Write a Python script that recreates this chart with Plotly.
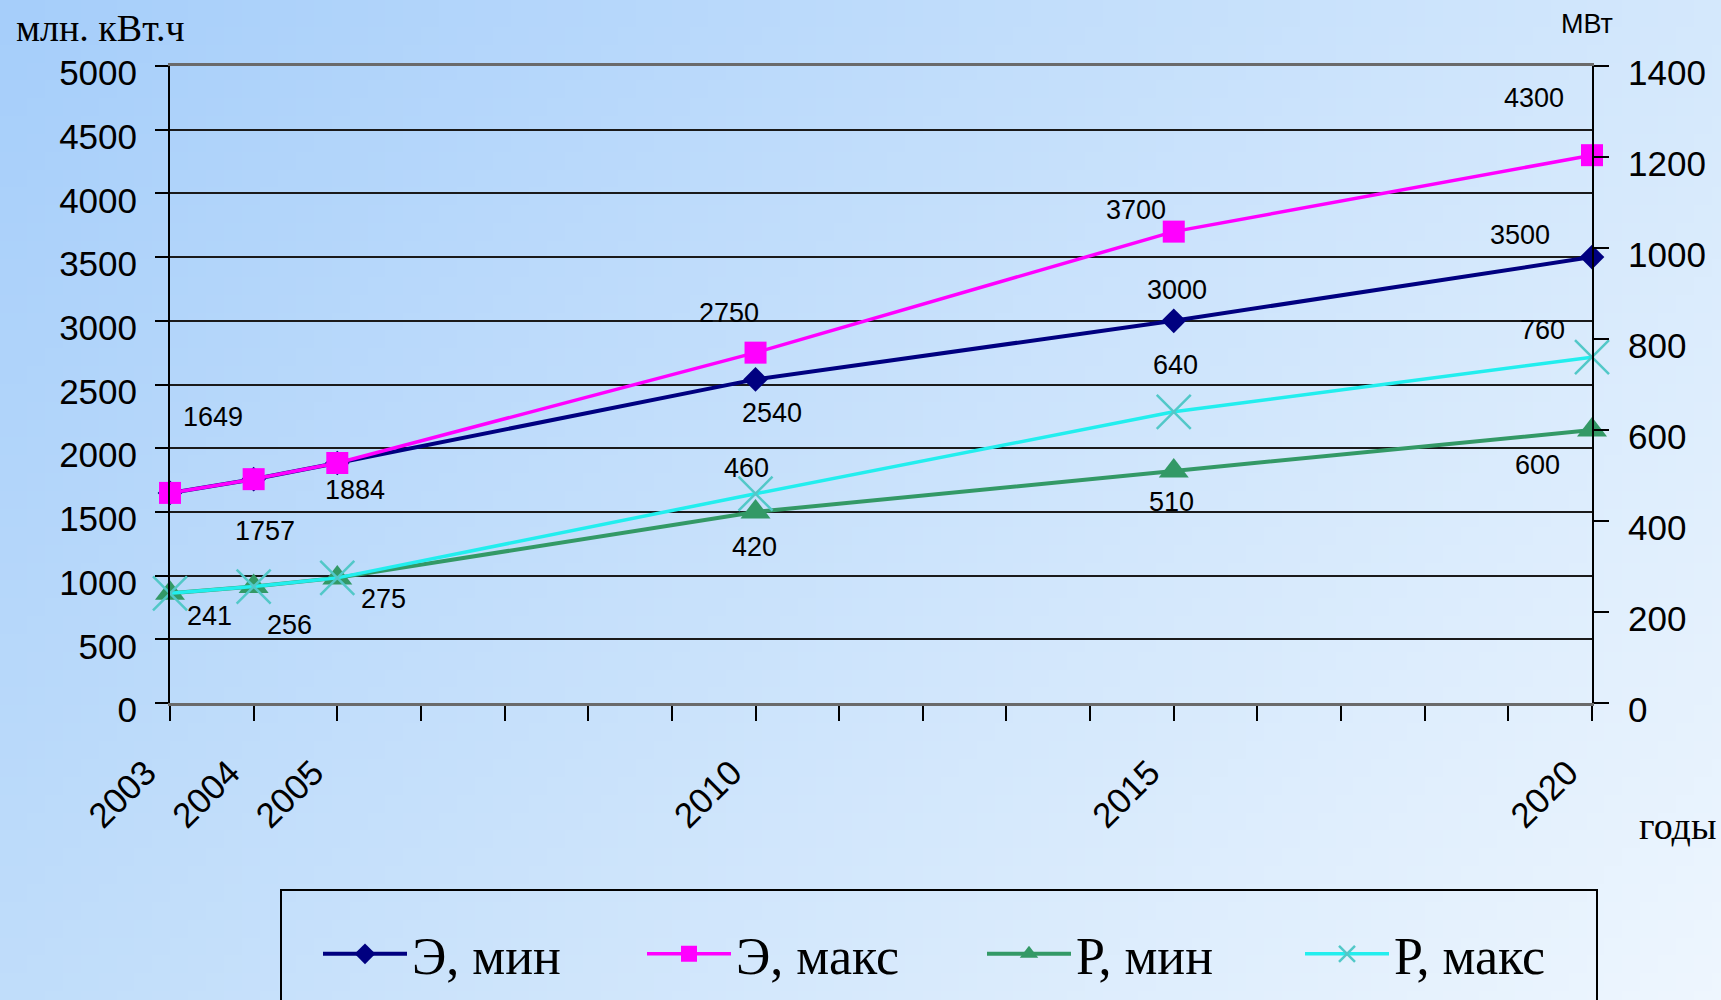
import base64
import struct
import zlib

import plotly.graph_objects as go

# ---- data -----------------------------------------------------------------
years = [2003, 2004, 2005, 2010, 2015, 2020]
energy_min = [1649, 1757, 1884, 2540, 3000, 3500]   # Э, мин  (млн. кВт.ч)
energy_max = [1649, 1757, 1884, 2750, 3700, 4300]   # Э, макс (млн. кВт.ч)
power_min = [241, 256, 275, 420, 510, 600]          # Р, мин  (МВт)
power_max = [241, 256, 275, 460, 640, 760]          # Р, макс (МВт)
series_names = ["Э, мин", "Э, макс", "Р, мин", "Р, макс"]
year_ticks = list(range(2003, 2021))
labelled_years = [2003, 2004, 2005, 2010, 2015, 2020]
left_ticks = list(range(0, 5001, 500))
right_ticks = list(range(0, 1401, 200))

# ---- canvas geometry ------------------------------------------------------
W, H = 1721, 1000
ML, MR, MT, MB = 170, 129, 66, 297
PW, PH = W - ML - MR, H - MT - MB


def px(x):
    return (x - ML) / PW


def py(y):
    return (H - MB - y) / PH


def gradient_png(w, h):
    """Small RGB PNG with a bilinear blue-to-white background gradient."""
    tl, tr, bl, br = (166, 206, 250), (212, 232, 252), (192, 221, 250), (238, 246, 254)
    raw = bytearray()
    for j in range(h):
        v = j / (h - 1)
        raw.append(0)
        for i in range(w):
            u = i / (w - 1)
            for k in range(3):
                top = tl[k] + (tr[k] - tl[k]) * u
                bot = bl[k] + (br[k] - bl[k]) * u
                raw.append(int(round(top + (bot - top) * v)))

    def chunk(tag, data):
        return (struct.pack(">I", len(data)) + tag + data
                + struct.pack(">I", zlib.crc32(tag + data) & 0xFFFFFFFF))

    png = (b"\x89PNG\r\n\x1a\n"
           + chunk(b"IHDR", struct.pack(">IIBBBBB", w, h, 8, 2, 0, 0, 0))
           + chunk(b"IDAT", zlib.compress(bytes(raw), 9))
           + chunk(b"IEND", b""))
    return "data:image/png;base64," + base64.b64encode(png).decode()


SANS = "Liberation Sans, Arial, sans-serif"
SERIF = "Liberation Serif, Times New Roman, serif"

fig = go.Figure()

# ---- series ---------------------------------------------------------------
fig.add_trace(go.Scatter(
    x=years, y=energy_min, name=series_names[0], mode="lines+markers",
    line=dict(color="#000080", width=4),
    marker=dict(symbol="diamond", size=19, color="#000080"),
    cliponaxis=False, legendwidth=225))
fig.add_trace(go.Scatter(
    x=years, y=energy_max, name=series_names[1], mode="lines+markers",
    line=dict(color="#ff00ff", width=3.5),
    marker=dict(symbol="square", size=22, color="#ff00ff"),
    cliponaxis=False, legendwidth=241))
fig.add_trace(go.Scatter(
    x=years, y=power_min, name=series_names[2], mode="lines+markers", yaxis="y2",
    line=dict(color="#339966", width=4),
    marker=dict(symbol="triangle-up", size=26, color="#339966"),
    cliponaxis=False, legendwidth=219))
fig.add_trace(go.Scatter(
    x=years, y=power_max, name=series_names[3], mode="lines+markers", yaxis="y2",
    line=dict(color="#22eeee", width=3.5),
    marker=dict(symbol="x-thin", size=34, line=dict(color="#52c8c8", width=2.5)),
    cliponaxis=False, legendwidth=200))

# ---- value labels (pixel offsets from each point) -------------------------
label_offsets = {
    "emin": [(43, 76), (11, -52), (18, -27), (16, -34), (3, 31), (-72, 22)],
    "emax": [None, None, None, (-27, 40), (-38, 22), (-58, 57)],
    "pmin": [None, None, None, (-1, -35), (-2, -31), (-55, -35)],
    "pmax": [(39, -23), (36, -38), (46, -21), (-9, 26), (2, 47), (-50, 27)],
}
label_series = {
    "emin": (energy_min, "y"),
    "emax": (energy_max, "y"),
    "pmin": (power_min, "y2"),
    "pmax": (power_max, "y2"),
}
annotations = []
for key, (vals, yref) in label_series.items():
    for yr, v, off in zip(years, vals, label_offsets[key]):
        if off is None:
            continue
        annotations.append(dict(
            x=yr, y=v, xref="x", yref=yref, text=str(v), showarrow=False,
            xanchor="center", yanchor="middle",
            xshift=off[0], yshift=off[1],
            font=dict(family=SANS, size=27, color="black")))

# axis captions
annotations += [
    dict(x=px(100), y=py(28), xref="paper", yref="paper", text="млн. кВт.ч",
         xanchor="center", yanchor="middle", showarrow=False,
         font=dict(family=SERIF, size=38, color="black")),
    dict(x=px(1587), y=py(24), xref="paper", yref="paper", text="МВт",
         xanchor="center", yanchor="middle", showarrow=False,
         font=dict(family=SANS, size=27, color="black")),
    dict(x=px(1677), y=py(826), xref="paper", yref="paper", text="годы",
         xanchor="center", yanchor="middle", showarrow=False,
         font=dict(family=SERIF, size=38, color="black")),
]

# legend frame
shapes = [dict(type="rect", xref="paper", yref="paper",
               x0=px(281), x1=px(1597), y0=py(1040), y1=py(890),
               line=dict(color="black", width=2), fillcolor="rgba(0,0,0,0)")]

fig.update_layout(
    width=W, height=H,
    margin=dict(l=ML, r=MR, t=MT, b=MB, autoexpand=False),
    paper_bgcolor="#d0e6fb",
    plot_bgcolor="rgba(0,0,0,0)",
    images=[dict(source=gradient_png(96, 56), xref="paper", yref="paper",
                 x=-ML / PW, y=1 + MT / PH, sizex=W / PW, sizey=H / PH,
                 xanchor="left", yanchor="top", sizing="stretch", layer="below")],
    showlegend=True,
    legend=dict(orientation="h", xref="container", yref="container",
                x=318 / W, y=1 - 954 / H, xanchor="left", yanchor="middle",
                bgcolor="rgba(0,0,0,0)", borderwidth=0, itemwidth=84,
                font=dict(family=SERIF, size=52, color="black")),
    annotations=annotations,
    shapes=shapes,
    xaxis=dict(
        range=[2003, 2020], tickmode="array", tickvals=year_ticks,
        ticktext=[str(y) if y in labelled_years else "" for y in year_ticks],
        tickangle=-45, ticks="outside", ticklen=15, tickwidth=2, tickcolor="black",
        ticklabelstandoff=17, ticklabelshift=-24, automargin=False,
        showgrid=False, zeroline=False, showline=True, linecolor="#6a6a6a",
        linewidth=3, mirror=True,
        tickfont=dict(family=SANS, size=35, color="black")),
    yaxis=dict(
        range=[0, 5000], tickmode="array", tickvals=left_ticks,
        ticks="outside", ticklen=13, tickwidth=2, tickcolor="black",
        showgrid=True, gridcolor="#1a1a1a", gridwidth=1.5, zeroline=False,
        showline=True, linecolor="black", linewidth=2, ticklabelstandoff=11,
        ticklabelshift=7, automargin=False,
        tickfont=dict(family=SANS, size=35, color="black")),
    yaxis2=dict(
        range=[0, 1400], tickmode="array", tickvals=right_ticks,
        overlaying="y", side="right", anchor="x",
        ticks="outside", ticklen=15, tickwidth=2, tickcolor="black",
        showgrid=False, zeroline=False, showline=True, linecolor="black",
        linewidth=2, ticklabelstandoff=12, ticklabelshift=7, automargin=False,
        tickfont=dict(family=SANS, size=35, color="black")),
)

fig.write_html("out.html")
